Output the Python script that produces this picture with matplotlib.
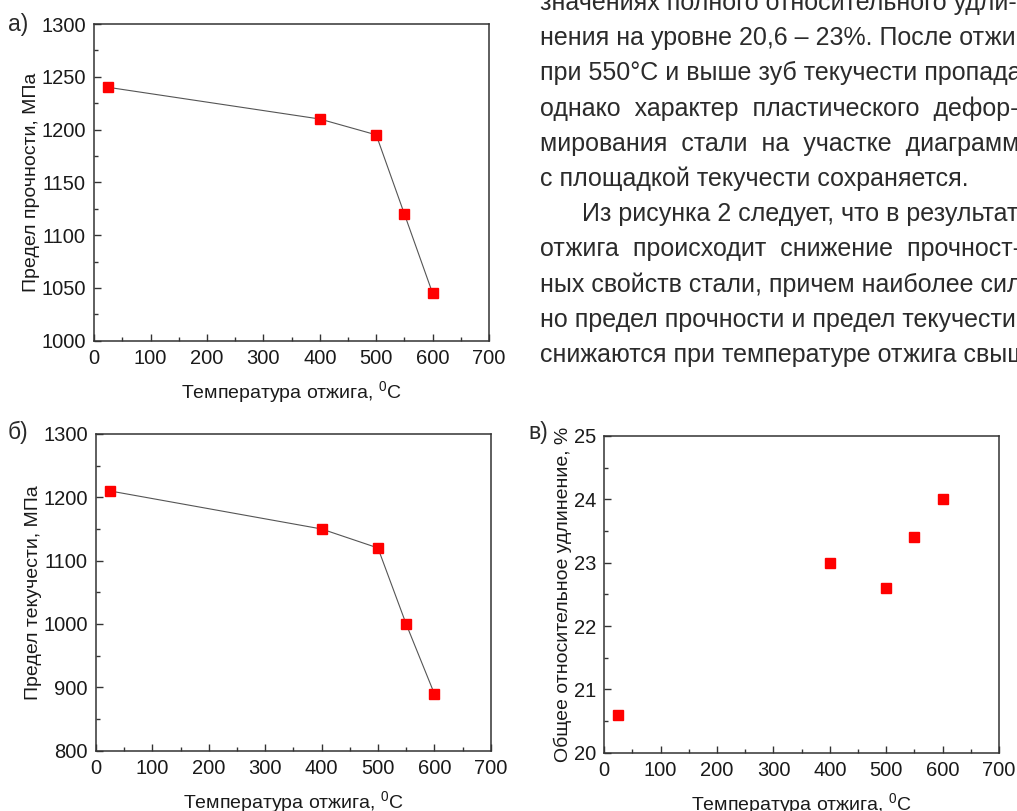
import matplotlib.pyplot as plt
from matplotlib.ticker import MultipleLocator

plt.rcParams['font.family'] = ['Liberation Sans', 'DejaVu Sans']
plt.rcParams['mathtext.fontset'] = 'custom'
plt.rcParams['mathtext.rm'] = 'Liberation Sans'

# данные: температура отжига и свойства стали
temp = [25, 400, 500, 550, 600]
strength = [1240, 1210, 1195, 1120, 1045]      # предел прочности, МПа
yield_pt = [1210, 1150, 1120, 1000, 890]       # предел текучести, МПа
elong = [20.6, 23.0, 22.6, 23.4, 24.0]         # общее относительное удлинение, %

xlab = 'Температура отжига, $^{\\mathregular{0}}$C'
ylab_a = 'Предел прочности, МПа'
ylab_b = 'Предел текучести, МПа'
ylab_c = 'Общее относительное удлинение, %'

body = ['значениях полного относительного удли-',
        'нения на уровне 20,6 – 23%. После отжига',
        'при 550°С и выше зуб текучести пропадает,',
        'однако  характер  пластического  дефор-',
        'мирования  стали  на  участке  диаграммы',
        'с площадкой текучести сохраняется.',
        '      Из рисунка 2 следует, что в результате',
        'отжига  происходит  снижение  прочност-',
        'ных свойств стали, причем наиболее силь-',
        'но предел прочности и предел текучести',
        'снижаются при температуре отжига свыше']

W, H = 1017, 811
fig = plt.figure(figsize=(W / 100, H / 100), dpi=100)


def px(x, y):
    return x / W, 1 - y / H


def setup(ax, ylim, ymaj, ymin):
    ax.set_xlim(0, 700)
    ax.set_ylim(*ylim)
    ax.xaxis.set_major_locator(MultipleLocator(100))
    ax.xaxis.set_minor_locator(MultipleLocator(50))
    ax.yaxis.set_major_locator(MultipleLocator(ymaj))
    ax.yaxis.set_minor_locator(MultipleLocator(ymin))
    ax.tick_params(which='both', direction='in', color='#333333', width=1)
    ax.tick_params(which='major', length=5, labelsize=14.5, pad=6, labelcolor='#1a1a1a')
    ax.tick_params(which='minor', length=3)
    for s in ax.spines.values():
        s.set_color('#333333')
        s.set_linewidth(1.1)
    ax.set_xlabel(xlab, fontsize=14, labelpad=8, color='#1a1a1a')


ax1 = fig.add_axes([0.0927, 0.5799, 0.3881, 0.3905])
ax1.plot(temp, strength, color='#555555', lw=0.8)
ax1.plot(temp, strength, 's', color='red', ms=7)
setup(ax1, (1000, 1300), 50, 25)
ax1.set_ylabel(ylab_a, fontsize=14, labelpad=1, color='#1a1a1a')

ax2 = fig.add_axes([0.0944, 0.0744, 0.3881, 0.3905])
ax2.plot(temp, yield_pt, color='#555555', lw=0.8)
ax2.plot(temp, yield_pt, 's', color='red', ms=7)
setup(ax2, (800, 1300), 100, 50)
ax2.set_ylabel(ylab_b, fontsize=14, labelpad=1, color='#1a1a1a')

ax3 = fig.add_axes([0.5942, 0.0719, 0.3881, 0.3905])
ax3.plot(temp, elong, 's', color='red', ms=7)
setup(ax3, (20, 25), 1, 0.5)
ax3.set_ylabel(ylab_c, fontsize=14, labelpad=1, color='#1a1a1a')

# подписи панелей
lab_font = ['Liberation Sans Narrow', 'Liberation Sans', 'DejaVu Sans']
for txt, (x, y) in [('а)', (8, 31)), ('б)', (8, 439)), ('в)', (528, 439))]:
    fig.text(*px(x, y), txt, fontsize=16.5, family=lab_font, color='#2a2a2a', va='baseline')

# текст статьи справа
for i, line in enumerate(body):
    fig.text(*px(540, 10 + 35.2 * i), line, fontsize=18, family=lab_font,
             color='#2b2b2b', va='baseline')

fig.savefig('out.png', dpi=100)
